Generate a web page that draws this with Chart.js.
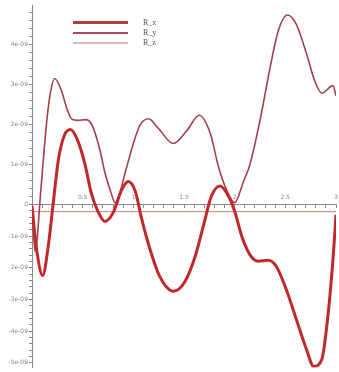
<!DOCTYPE html>
<html>
<head>
<meta charset="utf-8">
<script src="https://cdn.jsdelivr.net/npm/chart.js@4/dist/chart.umd.min.js"></script>
<style>
  body { margin: 0; background: #fff; }
  #wrap { position: relative; width: 339px; height: 372px; }
  #legenda { position: absolute; left: 0; top: 0; font-family: "Liberation Serif", serif; font-size: 8px; color: #555; }
  .item { position: absolute; left: 73px; width: 100px; height: 10px; }
  .traco { position: absolute; left: 0; width: 55px; }
  .nome { position: absolute; left: 70px; top: 0; line-height: 10px; }
</style>
</head>
<body>
<div id="wrap">
  <canvas id="grafico" width="339" height="372"></canvas>
  <div id="legenda"></div>
</div>
<script>
const nomes = ['R_x', 'R_y', 'R_z'];

// R_x (linha grossa)
const rxTempo = [0, 0.045, 0.105, 0.16, 0.21, 0.26, 0.32, 0.38, 0.45, 0.52, 0.585, 0.65, 0.72, 0.80, 0.885, 0.95, 1.02, 1.08, 1.165, 1.26, 1.395, 1.51, 1.61, 1.69, 1.77, 1.855, 1.94, 2.0, 2.07, 2.15, 2.23, 2.33, 2.41, 2.51, 2.61, 2.71, 2.78, 2.86, 2.92, 2.97, 3.0];
const rxValor = [-0.05e-9, -1.4e-9, -2.24e-9, -1.32e-9, 0.05e-9, 1.12e-9, 1.74e-9, 1.88e-9, 1.61e-9, 1.04e-9, 0.29e-9, -0.21e-9, -0.53e-9, -0.26e-9, 0.37e-9, 0.58e-9, 0.33e-9, -0.42e-9, -1.42e-9, -2.27e-9, -2.74e-9, -2.43e-9, -1.64e-9, -0.69e-9, 0.21e-9, 0.47e-9, 0.21e-9, -0.21e-9, -1.0e-9, -1.58e-9, -1.79e-9, -1.76e-9, -1.95e-9, -2.69e-9, -3.64e-9, -4.59e-9, -5.12e-9, -4.9e-9, -3.53e-9, -1.74e-9, -0.32e-9];

// R_y (linha fina)
const ryTempo = [0, 0.03, 0.09, 0.14, 0.175, 0.224, 0.29, 0.34, 0.39, 0.45, 0.536, 0.60, 0.67, 0.72, 0.78, 0.82, 0.935, 1.0, 1.066, 1.15, 1.25, 1.395, 1.53, 1.65, 1.76, 1.84, 1.92, 2.0, 2.09, 2.15, 2.25, 2.35, 2.43, 2.52, 2.61, 2.71, 2.79, 2.86, 2.97, 3.0];
const ryValor = [0, -1.49e-9, 0.45e-9, 1.95e-9, 2.7e-9, 3.16e-9, 2.86e-9, 2.44e-9, 2.15e-9, 2.11e-9, 2.13e-9, 1.95e-9, 1.37e-9, 0.80e-9, 0.30e-9, 0.05e-9, 0.95e-9, 1.53e-9, 1.99e-9, 2.15e-9, 1.9e-9, 1.53e-9, 1.86e-9, 2.24e-9, 1.78e-9, 0.95e-9, 0.37e-9, 0.05e-9, 0.6e-9, 1.0e-9, 2.11e-9, 3.44e-9, 4.35e-9, 4.75e-9, 4.51e-9, 3.77e-9, 3.1e-9, 2.79e-9, 2.98e-9, 2.73e-9];

// R_z (constante)
const rzTempo = [0, 3];
const rzValor = [-0.22e-9, -0.22e-9];

// marcas dos eixos
const ticksX = [];
for (let i = 0; i <= 30; i++) ticksX.push(i / 10);
const ticksY = [];
for (let i = -25; i <= 24; i++) ticksY.push(i * 2e-10);

const cores = ['#c0282c', '#a63e48', '#d07a7a'];
const espessuras = [3, 1.6, 1];
const legendaCores = ['#a84040', '#a8505a', '#dcbcbc'];

// eixo y com escalas diferentes acima e abaixo do zero (como na figura)
const ZERO_EM = 200 / 363;
class EscalaDividida extends Chart.LinearScale {
  getPixelForValue(v) {
    const zero = this.top + (this.bottom - this.top) * ZERO_EM;
    if (v >= 0) return zero - (v / this.max) * (zero - this.top);
    return zero + (v / this.min) * (this.bottom - zero);
  }
  getValueForPixel(p) {
    const zero = this.top + (this.bottom - this.top) * ZERO_EM;
    if (p <= zero) return (zero - p) / (zero - this.top) * this.max;
    return (p - zero) / (this.bottom - zero) * this.min;
  }
}
EscalaDividida.id = 'dividida';
EscalaDividida.defaults = Chart.LinearScale.defaults;
Chart.register(EscalaDividida);

function pontos(tempo, valor) {
  return tempo.map((t, i) => ({ x: t, y: valor[i] }));
}

function rotuloY(v) {
  const n = Math.round(v / 1e-9);
  if (Math.abs(v / 1e-9 - n) > 1e-6) return '';
  if (n === 0) return '0';
  return n + 'e-09';
}

function rotuloX(v) {
  const i = Math.round(v * 10);
  if (i === 0 || i % 5 !== 0) return '';
  return String(i / 10);
}

const series = [pontos(rxTempo, rxValor), pontos(ryTempo, ryValor), pontos(rzTempo, rzValor)];

const grafico = new Chart(document.getElementById('grafico'), {
  type: 'line',
  data: {
    datasets: series.map((s, i) => ({
      label: nomes[i],
      data: s,
      borderColor: cores[i],
      borderWidth: espessuras[i],
      pointRadius: 0,
      cubicInterpolationMode: 'monotone',
      fill: false
    }))
  },
  options: {
    responsive: false,
    animation: false,
    layout: { padding: { top: 5, right: 3, bottom: 4, left: 0 } },
    plugins: { legend: { display: false }, tooltip: { enabled: false } },
    scales: {
      x: {
        type: 'linear',
        min: 0,
        max: 3,
        position: { y: 0 },
        afterFit: (s) => { s.height = 0; },
        afterBuildTicks: (s) => { s.ticks = ticksX.map(v => ({ value: v })); },
        border: { color: '#8a8a8a', width: 1 },
        grid: { drawOnChartArea: false, tickLength: 3, color: '#8a8a8a' },
        ticks: {
          autoSkip: false,
          maxRotation: 0,
          padding: -14,
          color: '#888',
          font: { family: 'DejaVu Sans', size: 6 },
          callback: (v) => rotuloX(v)
        }
      },
      y: {
        type: 'dividida',
        min: -5.15e-9,
        max: 5e-9,
        position: 'left',
        afterFit: (s) => { s.width = 32; },
        afterBuildTicks: (s) => { s.ticks = ticksY.map(v => ({ value: v })); },
        border: { color: '#8a8a8a', width: 1 },
        grid: { drawOnChartArea: false, tickLength: 3, color: '#8a8a8a' },
        ticks: {
          autoSkip: false,
          padding: 1,
          color: '#888',
          font: { family: 'DejaVu Sans', size: 6 },
          callback: (v) => rotuloY(v)
        }
      }
    }
  }
});

// legenda em HTML
const legenda = document.getElementById('legenda');
nomes.forEach((nome, i) => {
  const item = document.createElement('div');
  item.className = 'item';
  item.style.top = (18 + i * 10) + 'px';
  const traco = document.createElement('div');
  traco.className = 'traco';
  traco.style.top = (5 - Math.ceil(espessuras[i] === 3 ? 1.5 : 1)) + 'px';
  traco.style.borderTop = (i === 0 ? 3 : 2) + 'px solid ' + legendaCores[i];
  const texto = document.createElement('span');
  texto.className = 'nome';
  texto.textContent = nome;
  item.appendChild(traco);
  item.appendChild(texto);
  legenda.appendChild(item);
});
</script>
</body>
</html>
